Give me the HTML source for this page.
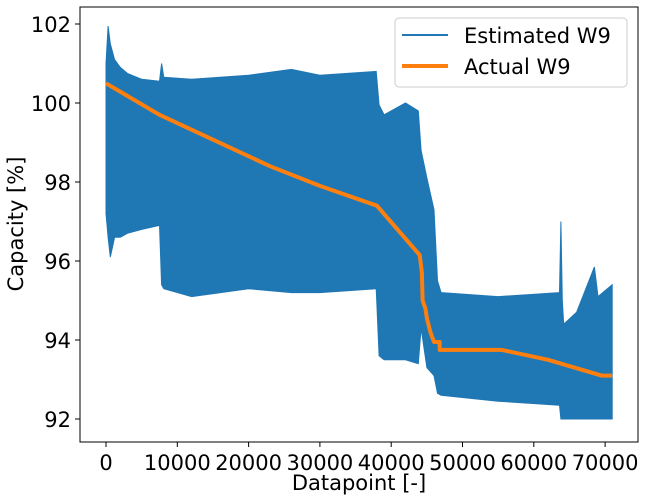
<!DOCTYPE html>
<html><head><meta charset="utf-8">
<style>
html,body{margin:0;padding:0;background:#fff;}
svg{display:block;font-family:"DejaVu Sans","Liberation Sans",sans-serif;}
</style></head>
<body>
<svg id="chart" width="647" height="500" viewBox="0 0 647 500">
<rect x="0" y="0" width="647" height="500" fill="#fff"/>
<g id="plot"></g>
<g id="axes"></g>
<text x="359" y="490" font-size="21" text-anchor="middle">Datapoint [-]</text>
<text transform="translate(23,224) rotate(-90)" font-size="21" text-anchor="middle">Capacity [%]</text>
<g>
<rect x="395" y="18" width="232" height="69" rx="4" fill="#fff" fill-opacity="0.8" stroke="#ccc"/>
<line x1="402" y1="35" x2="448" y2="35" stroke="#1f77b4" stroke-width="2"/>
<text x="464" y="43" font-size="21">Estimated W9</text>
<line x1="402" y1="66" x2="448" y2="66" stroke="#ff7f0e" stroke-width="4"/>
<text x="464" y="74" font-size="21">Actual W9</text>
</g>
</svg>
<script>
const estX = [0,0.3,0.6,1.2,2,3,5,7.5,7.8,8.1,12,20,26,30,37.9,38.3,39,42,43.8,44.2,45,46,46.5,47,55,63.6,63.8,64.0,64.2,66,68.5,69,71];
const estUpper = [101.0,101.95,101.5,101.1,100.9,100.75,100.6,100.55,101.0,100.65,100.6,100.7,100.85,100.7,100.8,99.95,99.7,100.0,99.8,98.8,98.1,97.3,95.5,95.2,95.1,95.2,97.0,95.0,94.4,94.7,95.85,95.1,95.4];
const estLower = [97.2,96.6,96.1,96.6,96.6,96.7,96.8,96.9,95.4,95.3,95.1,95.3,95.2,95.2,95.3,93.6,93.5,93.5,93.4,94.3,93.3,93.1,92.65,92.6,92.45,92.35,92.0,92.0,92.0,92.0,92.0,92.0,92.0];
const actX = [0,7.5,23,30,38,44,44.3,44.4,44.8,45,45.5,46,46.8,46.8,55.5,62,69.5,71];
const actY = [100.5,99.7,98.4,97.9,97.4,96.15,95.7,95.0,94.8,94.55,94.2,93.95,93.95,93.75,93.75,93.5,93.1,93.1];
const xTicks = [0,10000,20000,30000,40000,50000,60000,70000];
const yTicks = [92,94,96,98,100,102];

const L=80,R=638,T=7,B=442;
const sx = v => 106 + v*7.13;
const sy = v => 419 - (v-92)*39.5;
const NS='http://www.w3.org/2000/svg';
const plot=document.getElementById('plot'), axes=document.getElementById('axes');

let pts=[];
for(let i=0;i<estX.length;i++) pts.push(sx(estX[i]).toFixed(1)+','+sy(estUpper[i]).toFixed(1));
for(let i=estX.length-1;i>=0;i--) pts.push(sx(estX[i]).toFixed(1)+','+sy(estLower[i]).toFixed(1));
const band=document.createElementNS(NS,'polygon');
band.setAttribute('points',pts.join(' '));
band.setAttribute('fill','#1f77b4');
band.setAttribute('stroke','#1f77b4');
band.setAttribute('stroke-width','1');


plot.appendChild(band);

const act=document.createElementNS(NS,'polyline');
act.setAttribute('points',actX.map((x,i)=>sx(x).toFixed(1)+','+sy(actY[i]).toFixed(1)).join(' '));
act.setAttribute('fill','none');
act.setAttribute('stroke','#ff7f0e');
act.setAttribute('stroke-width','4');
act.setAttribute('stroke-linejoin','round');


plot.appendChild(act);

const frame=document.createElementNS(NS,'rect');
frame.setAttribute('x',L);frame.setAttribute('y',T);
frame.setAttribute('width',R-L);frame.setAttribute('height',B-T);
frame.setAttribute('fill','none');frame.setAttribute('stroke','#000');frame.setAttribute('stroke-width','1');


axes.appendChild(frame);

xTicks.forEach(t=>{
  const x=sx(t/1000);
  const ln=document.createElementNS(NS,'line');
  ln.setAttribute('x1',x);ln.setAttribute('x2',x);ln.setAttribute('y1',B);ln.setAttribute('y2',B+5);
  ln.setAttribute('stroke','#000');
  
  
  axes.appendChild(ln);
  const tx=document.createElementNS(NS,'text');
  tx.setAttribute('x',x);tx.setAttribute('y',B+28);
  tx.setAttribute('font-size','21');tx.setAttribute('text-anchor','middle');
  tx.textContent=String(t);
  
  
  axes.appendChild(tx);
});
yTicks.forEach(t=>{
  const y=sy(t);
  const ln=document.createElementNS(NS,'line');
  ln.setAttribute('x1',L-5);ln.setAttribute('x2',L);ln.setAttribute('y1',y);ln.setAttribute('y2',y);
  ln.setAttribute('stroke','#000');
  
  
  axes.appendChild(ln);
  const tx=document.createElementNS(NS,'text');
  tx.setAttribute('x',L-9);tx.setAttribute('y',y+8);
  tx.setAttribute('font-size','21');tx.setAttribute('text-anchor','end');
  tx.textContent=String(t);
  
  
  axes.appendChild(tx);
});
</script>
</body></html>
